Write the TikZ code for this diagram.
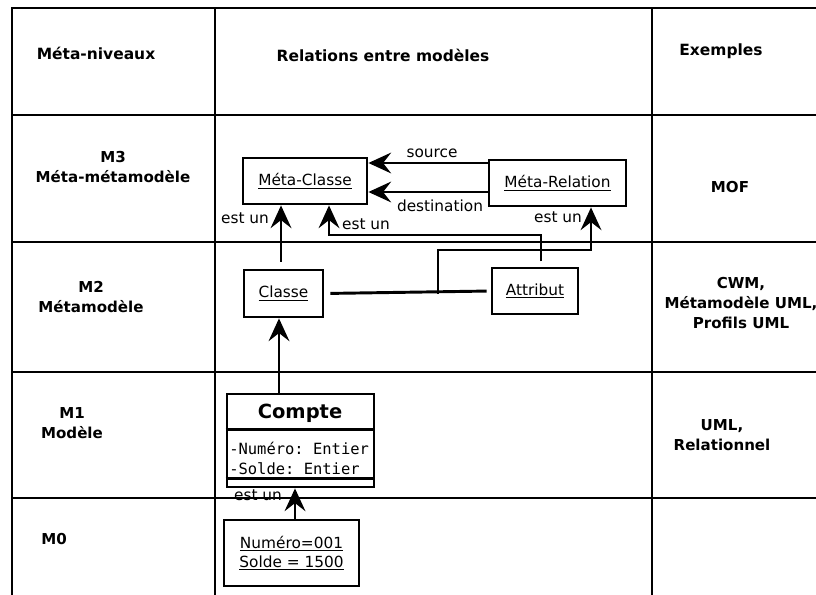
\documentclass[tikz,border=0pt]{standalone}
\usepackage{fontspec}
\setmainfont{DejaVu Sans}
\setmonofont{DejaVu Sans Mono}
\usetikzlibrary{arrows.meta,positioning}

\tikzset{
  grille/.style={line width=1.9pt},
  boite/.style={draw,line width=2.1pt,inner sep=0pt,align=center,font=\fontsize{11.5}{14.3}\selectfont},
  lien/.style={line width=2.2pt},
  fleche/.style={lien,-{Stealth[length=17pt,width=15.5pt,inset=6pt]}},
  niveau/.style={align=center,font=\bfseries\fontsize{11.3}{15}\selectfont},
  entete/.style={font=\bfseries\fontsize{11.6}{15}\selectfont},
  etiq/.style={inner sep=0pt,font=\fontsize{11.5}{14}\selectfont},
}

\begin{document}
\begin{tikzpicture}[x=0.75pt,y=-0.75pt]
	\useasboundingbox (0,0) rectangle (816,595);
	% le tableau
	\draw[grille] (12,595) -- (12,8) -- (816,8);
	\draw[grille] (215,8) -- (215,595);
	\draw[grille] (652,8) -- (652,595);
	\foreach \y in {115,242,372,498}
		\draw[grille] (12,\y) -- (816,\y);
	% en-tetes
	\node[entete] (hniv) at (96,53) {Méta-niveaux};
	\node[entete] (hrel) at (383,55) {Relations entre modèles};
	\node[entete] (hex) at (721,51) {Exemples};
	% niveaux
	\node[niveau] (m3) at (113,167) {M3\\Méta-métamodèle};
	\node[niveau] (m2) at (91,297) {M2\\Métamodèle};
	\node[niveau] (m1) at (72,423) {M1\\Modèle};
	\node[niveau] (m0) at (54,539) {M0};
	% exemples
	\node[niveau] (exmof) at (730,187) {MOF};
	\node[niveau] (excwm) at (741,303) {CWM,\\Métamodèle UML,\\Profils UML};
	\node[niveau] (exuml) at (722,435) {UML,\\Relationnel};
	% M3
	\node[boite,minimum width=93pt,minimum height=34.5pt] (mclasse) at (305,181) {\underline{Méta-Classe}};
	\node[boite,minimum width=102.75pt,minimum height=34.5pt] (mrelation) at (557.5,183) {\underline{Méta-Relation}};
	% M2
	\node[boite,minimum width=59.25pt,minimum height=35.25pt] (classe) at (283.5,293.5) {\underline{Classe}};
	\node[boite,minimum width=64.5pt,minimum height=34.5pt] (attribut) at (535,291) {\underline{Attribut}};
	% M1
	\node[boite,minimum width=110.25pt,minimum height=69.75pt] (compte) at (300.5,440.5) {};
	\draw[boite] ([yshift=-27.75pt]compte.north west) -- ([yshift=-27.75pt]compte.north east);
	\draw[boite] ([yshift=7.5pt]compte.south west) -- ([yshift=7.5pt]compte.south east);
	\node[font=\bfseries\fontsize{14.6}{17}\selectfont] (ctitre) at (300,413) {Compte};
	\node[anchor=west,inner sep=0pt,align=left,font=\ttfamily\fontsize{11.6}{15}\selectfont] (cattr) at (229,458) {-Numéro: Entier\\-Solde: Entier};
	% M0
	\node[boite,minimum width=101.25pt,minimum height=49.5pt] (objet) at (291.5,553) {\underline{Numéro=001}\\\underline{Solde = 1500}};
	% relations
	\draw[fleche] (mrelation.west |- 0,163) -- (mclasse.east |- 0,163);
	\draw[fleche] (mrelation.west |- 0,192) -- (mclasse.east |- 0,192);
	\node[etiq] (lsource) at (432,153) {source};
	\node[etiq] (ldest) at (440,206) {destination};
	\draw[lien,shorten <=4.5pt,shorten >=3pt] (classe.east) -- (attribut.west);
	\coordinate (jonction) at (438,293.5);
	\draw[fleche,shorten <=5pt] (281,0 |- classe.north) -- (281,0 |- mclasse.south);
	\draw[fleche,shorten <=4pt] (541,0 |- attribut.north) -- (541,235) -- (329,235) -- (329,0 |- mclasse.south);
	\draw[fleche] (jonction) |- (591,250) -- (591,0 |- mrelation.south);
	\draw[fleche] (279,0 |- compte.north) -- (279,0 |- classe.south);
	\draw[fleche] (295,0 |- objet.north) -- (295,0 |- compte.south);
	\node[etiq] (lestun1) at (245,218) {est un};
	\node[etiq] (lestun2) at (366,224) {est un};
	\node[etiq] (lestun3) at (558,217) {est un};
	\node[etiq] (lestun4) at (258,495) {est un};
\end{tikzpicture}
\end{document}
